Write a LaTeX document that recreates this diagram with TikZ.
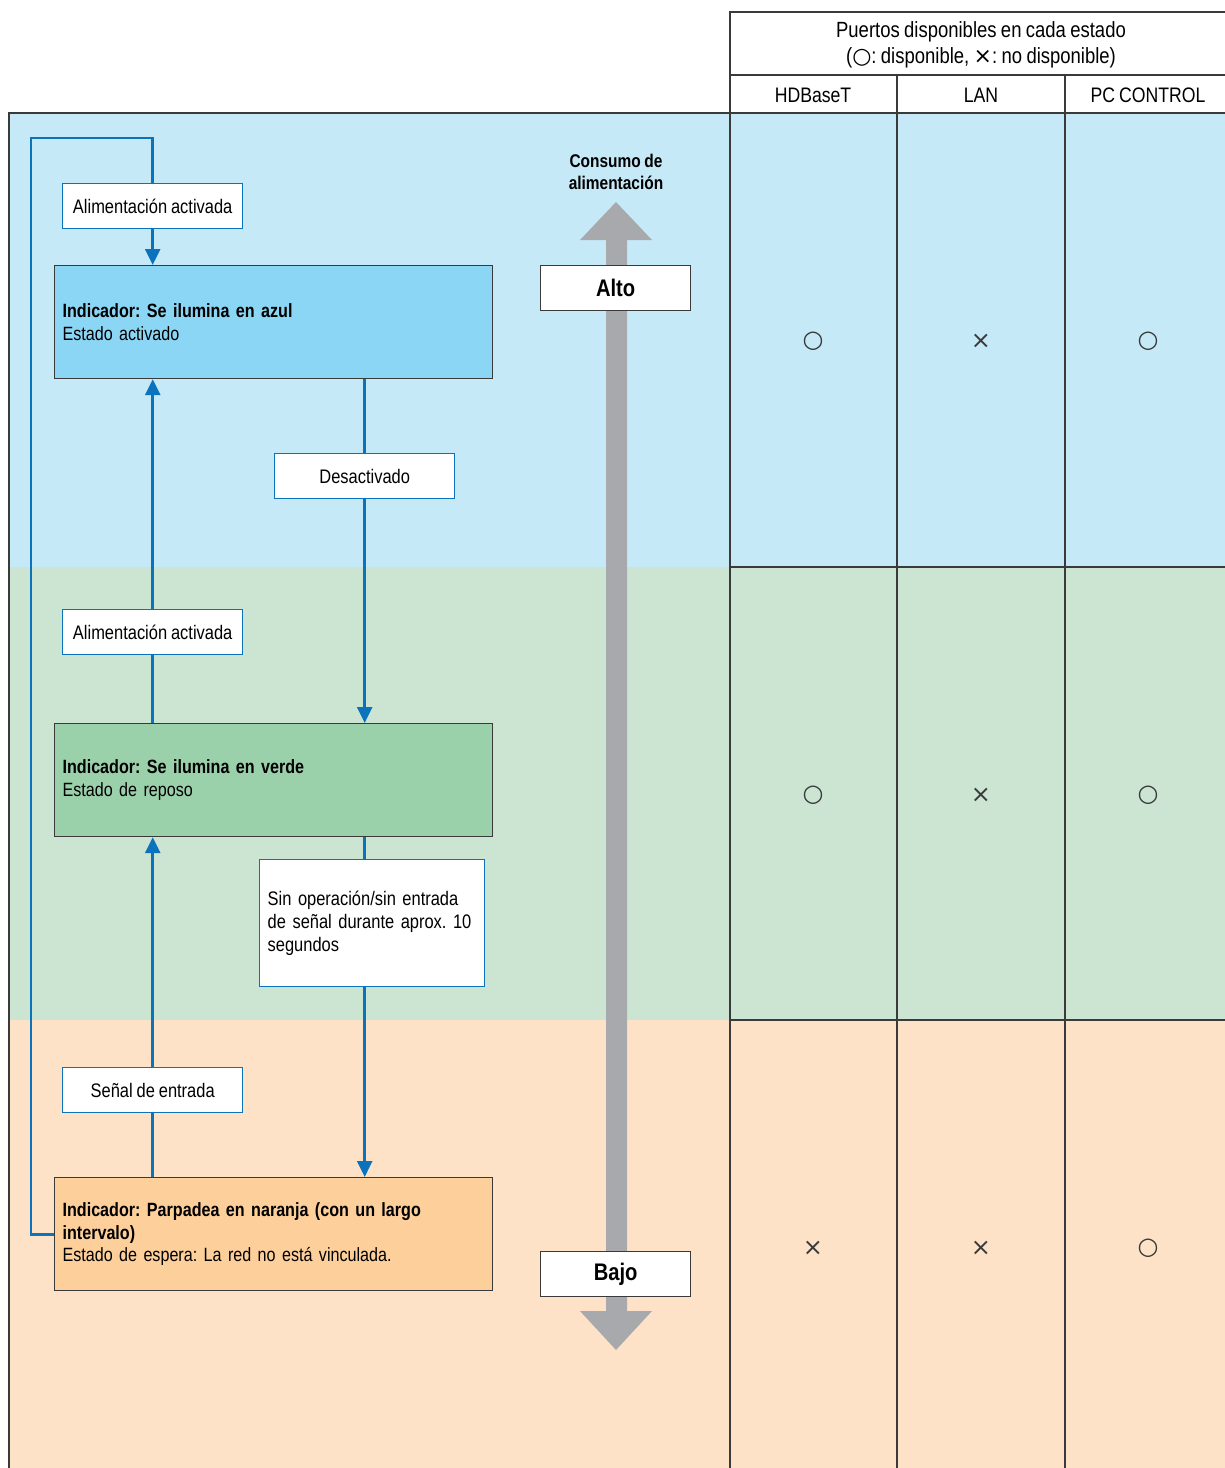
\documentclass[tikz,border=0pt]{standalone}
\usepackage{fontspec}
\setmainfont{Liberation Sans}[FakeStretch=0.84,WordSpace=0.85]
\newfontfamily\symfont{DejaVu Sans}
\usetikzlibrary{arrows.meta,positioning}
\definecolor{bandblue}{HTML}{C6E9F8}
\definecolor{bandgreen}{HTML}{CCE5D3}
\definecolor{bandorange}{HTML}{FDE2C8}
\definecolor{boxblue}{HTML}{8BD6F5}
\definecolor{boxgreen}{HTML}{9AD1AA}
\definecolor{boxorange}{HTML}{FDCF9B}
\definecolor{flowblue}{HTML}{0B72BC}
\definecolor{powergray}{HTML}{A7A9AC}
\definecolor{rulegray}{HTML}{3A3A3A}
\tikzset{statebox/.style={rectangle,draw=rulegray,line width=.6pt,anchor=north west,minimum width=219pt,minimum height=56.5pt,text width=211pt,inner sep=4pt,align=left,font=\fontsize{9.6}{11.4}\selectfont},eventbox/.style={rectangle,draw=flowblue,fill=white,line width=.7pt,minimum width=90pt,minimum height=22.5pt,inner sep=2pt,font=\fontsize{9.8}{11.4}\selectfont},levelbox/.style={rectangle,draw=rulegray,fill=white,line width=.6pt,minimum width=75pt,minimum height=22.5pt,inner sep=2pt,font=\bfseries\fontsize{12}{14}\selectfont},flowline/.style={flowblue,line width=1.4pt},flow/.style={flowline,-{Triangle[length=8pt,width=7.5pt]}},tablerule/.style={rulegray,line width=.6pt},portsym/.style={font=\symfont\fontsize{12}{12}\selectfont,text=rulegray,inner sep=0pt},colhead/.style={font=\fontsize{10.5}{13}\selectfont,inner sep=0pt}}

\begin{document}
\frenchspacing
\begin{tikzpicture}[x=0.5pt,y=-0.5pt]
\useasboundingbox (0,0) rectangle (1225,1468);
% bands for the three states
\fill[bandblue] (9,113) rectangle (1225,567);
\fill[bandgreen] (9,567) rectangle (1225,1020);
\fill[bandorange] (9,1020) rectangle (1225,1468);
% table of ports
\draw[tablerule] (9,1468) -- (9,113) -- (1225,113);
\draw[tablerule] (1225,12) -- (730,12) -- (730,1468);
\draw[tablerule] (730,75) -- (1225,75);
\foreach \x in {897,1065}{\draw[tablerule] (\x,75) -- (\x,1468);}
\foreach \y in {567,1020}{\draw[tablerule] (730,\y) -- (1225,\y);}
\node[colhead,align=center,font=\fontsize{11}{13}\selectfont] (porttitle) at (981,45) {Puertos disponibles en cada estado\\({\symfont ○}: disponible, {\symfont ×}: no disponible)};
\node[colhead] (hdbaset) at (813,95) {HDBaseT};
\node[colhead] (lan) at (981,95) {LAN};
\node[colhead] (pccontrol) at (1148,95) {PC CONTROL};
\foreach \row/\yy/\a/\b/\c in {on/341/○/×/○,idle/795/○/×/○,wait/1248/×/×/○}{
  \node[portsym] (\row-hdbaset) at (813,\yy) {\a};
  \node[portsym] (\row-lan) at (981,\yy) {\b};
  \node[portsym] (\row-pc) at (1148,\yy) {\c};
}
% power consumption arrow
\fill[powergray] (606,240) -- (580,240) -- (616,202) -- (652,240) -- (627,240) -- (627,1311) -- (652,1311) -- (616,1350) -- (580,1311) -- (606,1311) -- cycle;
\node[font=\bfseries\fontsize{9.2}{11.4}\selectfont,align=center] (consumo) at (616,172) {Consumo de\\alimentación};
\node[levelbox,anchor=north west] (alto) at (540,265) {Alto};
\node[levelbox,anchor=north west] (bajo) at (540,1251) {Bajo};
% state boxes
\node[statebox,fill=boxblue] (active) at (54,265) {\textbf{Indicador: Se ilumina en azul}\\Estado activado};
\node[statebox,fill=boxgreen] (idle) at (54,723) {\textbf{Indicador: Se ilumina en verde}\\Estado de reposo};
\node[statebox,fill=boxorange] (standby) at (54,1177) {\textbf{Indicador: Parpadea en naranja (con un largo}\\\textbf{intervalo)}\\Estado de espera: La red no está vinculada.};
% events
\node[eventbox,anchor=north west] (on1) at (62,183) {Alimentación activada};
\node[eventbox,anchor=north west] (off) at (274,453) {Desactivado};
\node[eventbox,anchor=north west] (on2) at (62,609) {Alimentación activada};
\node[eventbox,anchor=north west,minimum width=112.5pt,minimum height=63.5pt,text width=104.5pt,inner sep=4pt,align=left] (timeout) at (259,859) {Sin operación/sin entrada\\de señal durante aprox. 10\\segundos};
\node[eventbox,anchor=north west] (signal) at (62,1067) {Señal de entrada};
\coordinate (loopcorner) at (31,138);
% transitions
\draw[flowline] (standby.west) -| (loopcorner) -| (on1.north);
\draw[flow] (on1.south) -- (on1.south |- active.north);
\draw[flowline] (active.south -| off) -- (off.north);
\draw[flow] (off.south) -- (off.south |- idle.north);
\draw[flowline] (idle.north -| on2) -- (on2.south);
\draw[flow] (on2.north) -- (on2.north |- active.south);
\draw[flowline] (idle.south -| off) -- (timeout.north -| off);
\draw[flow] (timeout.south -| off) -- (standby.north -| off);
\draw[flowline] (standby.north -| signal) -- (signal.south);
\draw[flow] (signal.north) -- (signal.north |- idle.south);
\end{tikzpicture}
\end{document}
